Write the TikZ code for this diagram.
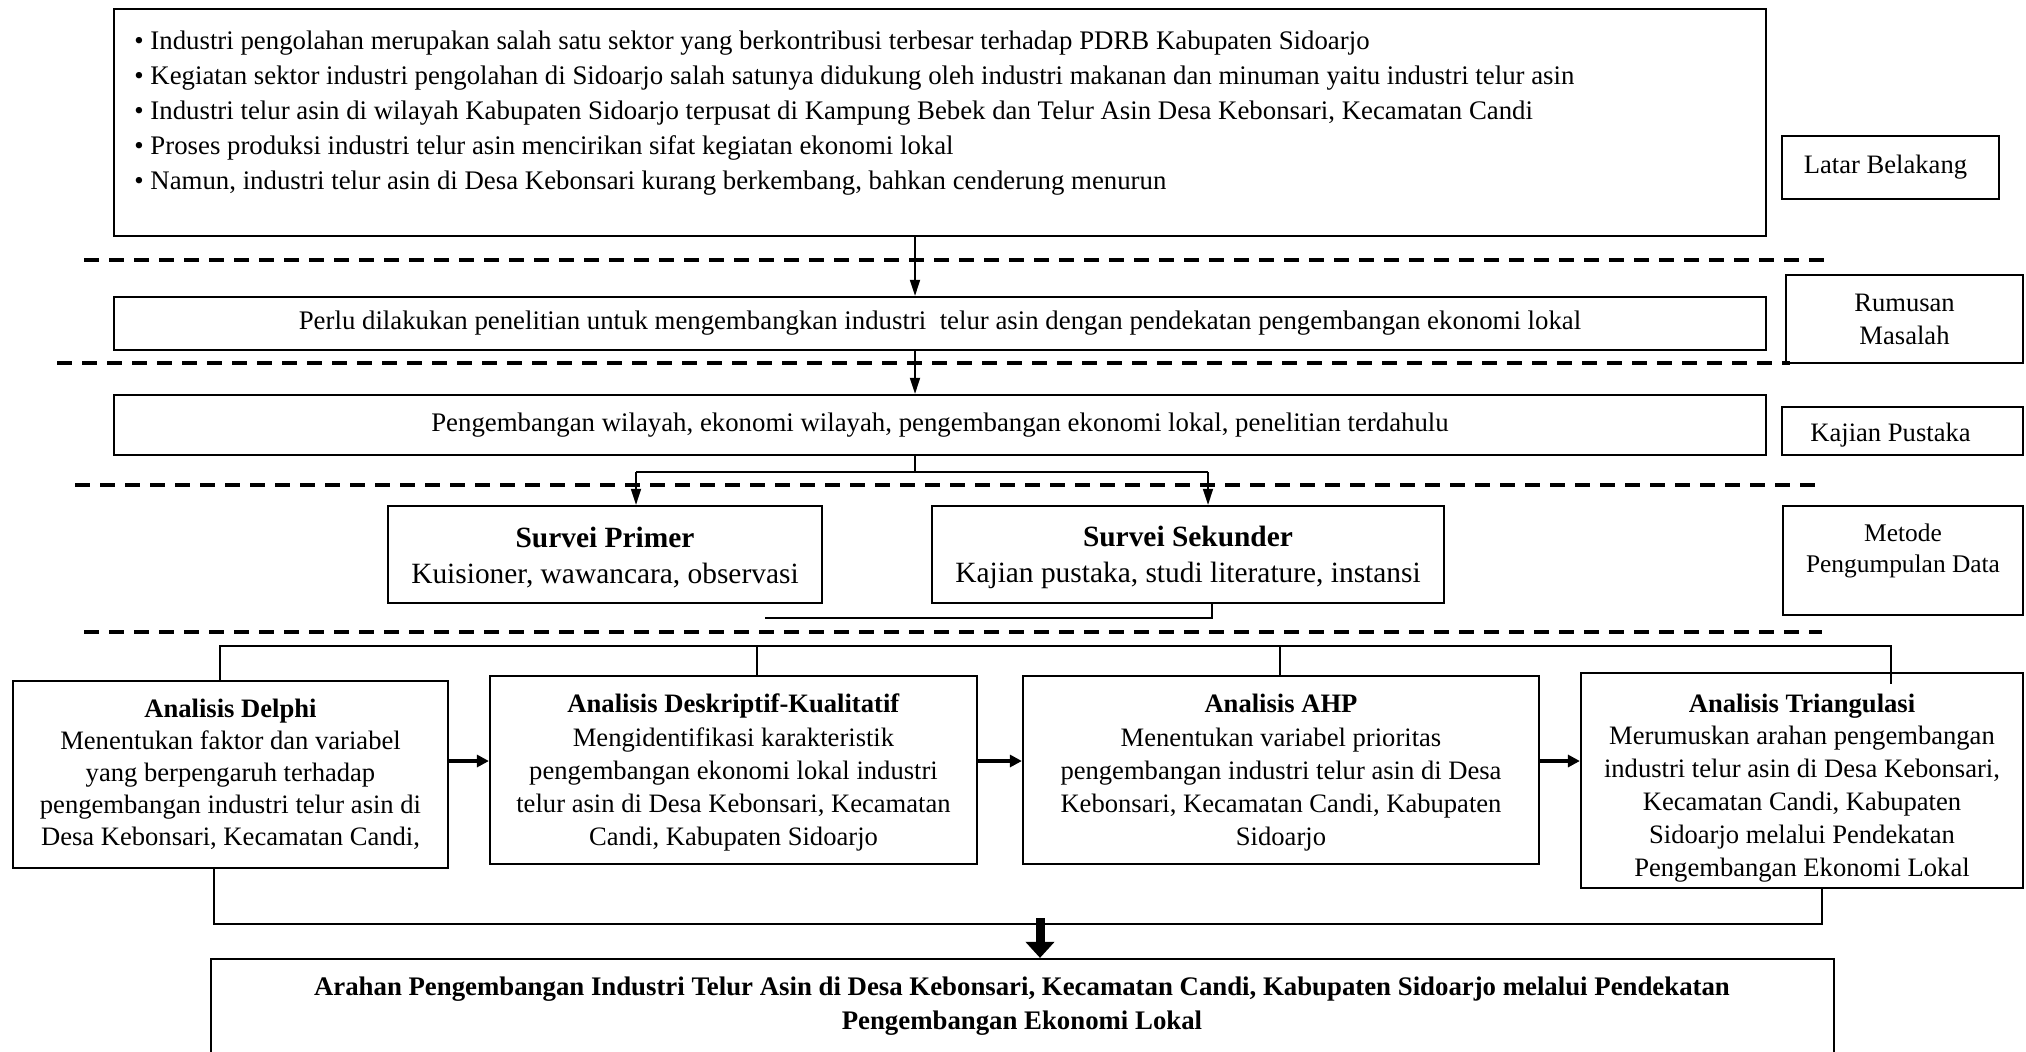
\documentclass[tikz,border=0pt]{standalone}
\usepackage{fontspec}
\setmainfont{Liberation Serif}
\usetikzlibrary{arrows.meta,fit}
\begin{document}
\begin{tikzpicture}[x=0.5pt,y=-0.5pt,
 box/.style={draw, line width=1.1pt, inner sep=0pt, align=center},
 thinln/.style={line width=0.6pt},
 arr/.style={line width=0.9pt, -{Triangle[length=8pt,width=5pt]}},
 harr/.style={line width=1.6pt, -{Triangle[length=6pt,width=6pt]}},
 sepline/.style={line width=2pt, dash pattern=on 7.5pt off 5pt},
 txt/.style={font=\fontsize{13.4}{17.5}\selectfont},
 lbl/.style={box, font=\fontsize{13.3}{16.5}\selectfont},
 srv/.style={box, font=\fontsize{14.7}{18}\selectfont},
 ana/.style={box, font=\fontsize{13.3}{16}\selectfont},
 anawide/.style={box, font=\fontsize{13.3}{16.6}\selectfont},
 anatri/.style={box, font=\fontsize{13.3}{16.4}\selectfont},
]
\useasboundingbox (0,0) rectangle (2026,1051);
\clip (0,0) rectangle (2026,1051);

% dashed separators
\draw[sepline] (84,260) -- (1826,260);
\draw[sepline] (57,363) -- (1790,363);
\draw[sepline] (75,485) -- (1815,485);
\draw[sepline] (84,632) -- (1822,632);

% background box
\node[box, line width=1.3pt, fit={(114,9)(1766,236)}] (bg) {};
\node[txt, anchor=north west, align=left, inner sep=0pt] (bgtext) at (134,30)
{\textbullet\ Industri pengolahan merupakan salah satu sektor yang berkontribusi terbesar terhadap PDRB Kabupaten Sidoarjo\\
\textbullet\ Kegiatan sektor industri pengolahan di Sidoarjo salah satunya didukung oleh industri makanan dan minuman yaitu industri telur asin\\
\textbullet\ Industri telur asin di wilayah Kabupaten Sidoarjo terpusat di Kampung Bebek dan Telur Asin Desa Kebonsari, Kecamatan Candi\\
\textbullet\ Proses produksi industri telur asin mencirikan sifat kegiatan ekonomi lokal\\
\textbullet\ Namun, industri telur asin di Desa Kebonsari kurang berkembang, bahkan cenderung menurun};
\node[lbl, minimum width=108.5pt, minimum height=31.5pt] (lb) at (1890.5,167.5) {Latar Belakang\hspace*{5pt}};

% rumusan
\node[box, txt, minimum width=826pt, minimum height=26.5pt] (rm) at (940,323.5) {Perlu dilakukan penelitian untuk mengembangkan industri\ \ telur asin dengan pendekatan pengembangan ekonomi lokal};
\node[lbl, minimum width=118.5pt, minimum height=44pt] (rml) at (1904.5,319) {Rumusan\\Masalah};

% kajian pustaka
\node[box, txt, minimum width=826pt, minimum height=30pt] (kp) at (940,425) {Pengembangan wilayah, ekonomi wilayah, pengembangan ekonomi lokal, penelitian terdahulu};
\node[lbl, minimum width=120.5pt, minimum height=24pt] (kpl) at (1902.5,431) {\raisebox{-2pt}[\height][\depth]{Kajian Pustaka}\hspace*{12pt}};

% survei
\node[srv, minimum width=217pt, minimum height=48.5pt] (sp) at (605,554.5) {\mbox{}\\[-4.7pt]\textbf{Survei Primer}\\Kuisioner, wawancara, observasi};
\node[srv, minimum width=256pt, minimum height=48.5pt] (ss) at (1188,554.5) {\mbox{}\\[-4.7pt]\textbf{Survei Sekunder}\\Kajian pustaka, studi literature, instansi};
\node[box, font=\fontsize{12.7}{15.5}\selectfont, minimum width=120pt, minimum height=54.5pt] (mpd) at (1903,560.5) {Metode\\Pengumpulan Data\\[-3.5pt]\mbox{}};

% analyses
\node[ana, minimum width=217.5pt, minimum height=93.5pt] (del) at (230.5,774.5) {\textbf{Analisis Delphi}\\Menentukan faktor dan variabel\\yang berpengaruh terhadap\\pengembangan industri telur asin di\\Desa Kebonsari, Kecamatan Candi,};
\node[anawide, minimum width=243.5pt, minimum height=94pt] (des) at (733.5,770) {\mbox{}\\[-4.5pt]\textbf{Analisis Deskriptif-Kualitatif}\\Mengidentifikasi karakteristik\\pengembangan ekonomi lokal industri\\telur asin di Desa Kebonsari, Kecamatan\\Candi, Kabupaten Sidoarjo};
\node[anawide, minimum width=258pt, minimum height=94pt] (ahp) at (1281,770) {\mbox{}\\[-4.5pt]\textbf{Analisis AHP}\\Menentukan variabel prioritas\\pengembangan industri telur asin di Desa\\Kebonsari, Kecamatan Candi, Kabupaten\\Sidoarjo};
\node[anatri, minimum width=221pt, minimum height=107.5pt] (tri) at (1802,780.5) {\mbox{}\\[0pt]\textbf{Analisis Triangulasi}\\Merumuskan arahan pengembangan\\industri telur asin di Desa Kebonsari,\\Kecamatan Candi, Kabupaten\\Sidoarjo melalui Pendekatan\\Pengembangan Ekonomi Lokal};

% final
\node[box, fit={(211,959)(1834,1090)}] (fin) {};
\node[font=\bfseries\fontsize{13.4}{17}\selectfont, align=center] (fintext) at (1022,1006)
{Arahan Pengembangan Industri Telur Asin di Desa Kebonsari, Kecamatan Candi, Kabupaten Sidoarjo melalui Pendekatan\\Pengembangan Ekonomi Lokal};

% connectors
\coordinate (ax) at (915,0);
\draw[arr] (ax |- bg.south) -- (ax |- rm.north);
\draw[arr] (ax |- rm.south) -- (ax |- kp.north);
\coordinate (bl) at (636,472);
\coordinate (br) at (1208,472);
\draw[thinln] (ax |- kp.south) -- (ax |- bl);
\draw[thinln] (bl) -- (br);
\draw[arr] (bl) -- (bl |- sp.north);
\draw[arr] (br) -- (br |- ss.north);
\coordinate (sx) at (1212,618);
\coordinate (sl) at (765,618);
\draw[thinln] (sx |- ss.south) -- (sx) -- (sl);

\coordinate (tl) at (220,646);
\coordinate (tr) at (1891,646);
\draw[thinln] (tl |- del.north) -- (tl) -- (tr) -- (1891,684);
\draw[thinln] (757,646) -- (757,0 |- des.north);
\draw[thinln] (1280,646) -- (1280,0 |- ahp.north);

\coordinate (ay) at (0,761);
\draw[harr] (del.east |- ay) -- (des.west |- ay);
\draw[harr] (des.east |- ay) -- (ahp.west |- ay);
\draw[harr] (ahp.east |- ay) -- (tri.west |- ay);

\coordinate (bl2) at (214,924);
\coordinate (br2) at (1822,924);
\draw[thinln] (bl2 |- del.south) -- (bl2) -- (br2) -- (br2 |- tri.south);
\coordinate (dn) at (1040,918);
\draw[line width=4.5pt, -{Triangle[length=8pt,width=14pt]}] (dn) -- (dn |- fin.north);
\end{tikzpicture}
\end{document}
